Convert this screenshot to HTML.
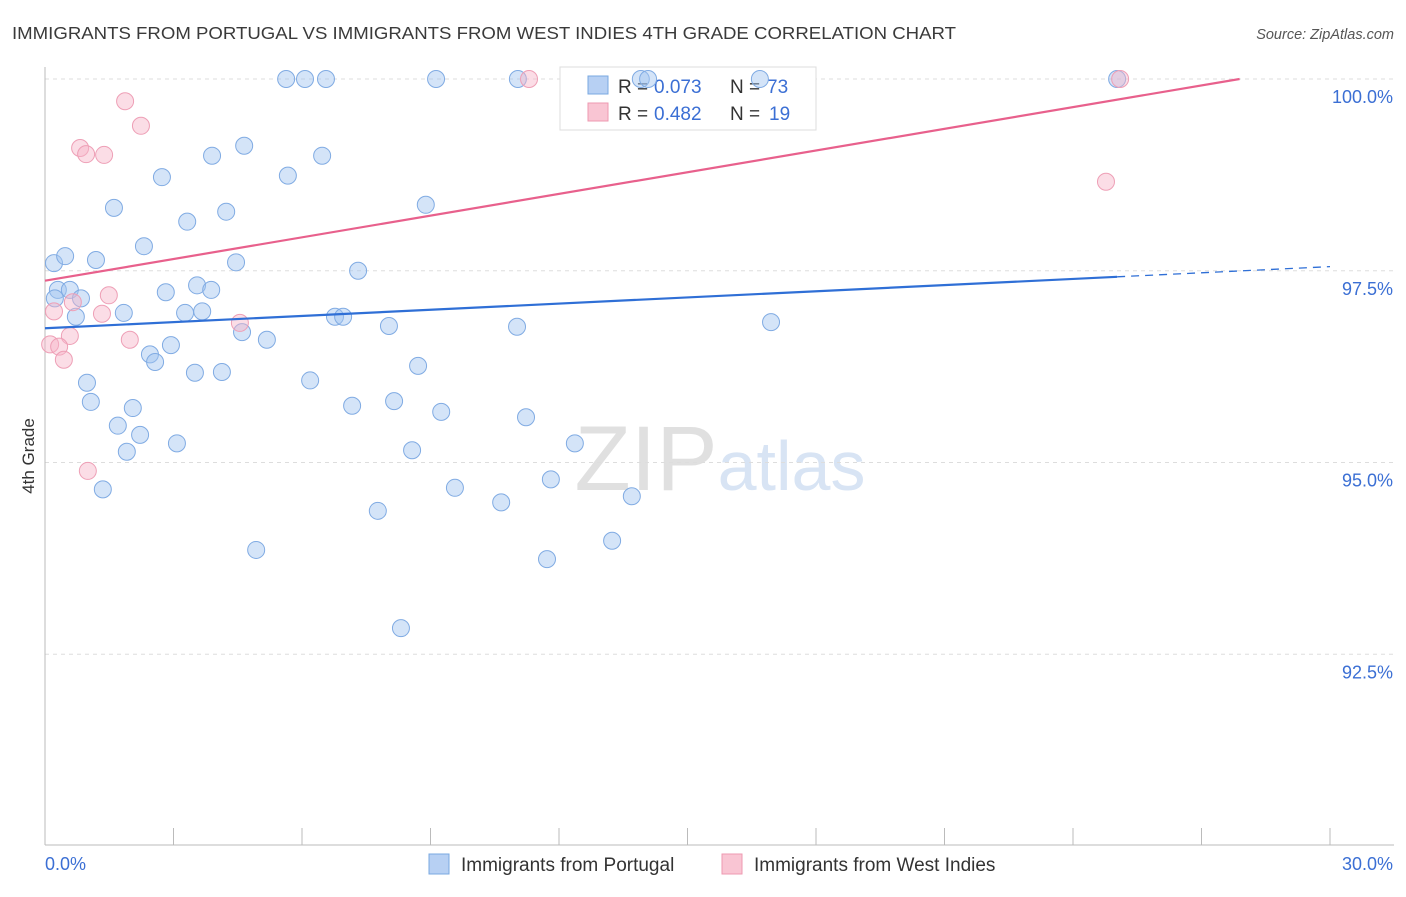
<!DOCTYPE html>
<html><head><meta charset="utf-8"><style>
body{margin:0;background:#fff;font-family:"Liberation Sans",sans-serif}
svg text{font-family:"Liberation Sans",sans-serif}
</style></head><body>
<svg id="chart" width="1406" height="892" xmlns="http://www.w3.org/2000/svg">
<text x="12" y="39" font-size="17.5" fill="#3a3a3a" textLength="944" lengthAdjust="spacingAndGlyphs">IMMIGRANTS FROM PORTUGAL VS IMMIGRANTS FROM WEST INDIES 4TH GRADE CORRELATION CHART</text>
<text x="1394" y="39" font-size="14.5" fill="#555" text-anchor="end" font-style="italic">Source: ZipAtlas.com</text>
<text x="720" y="490" font-size="92" fill="#e4e4e4" text-anchor="middle" font-family="Liberation Serif"><tspan fill="#e0e0e0">ZIP</tspan><tspan fill="#d8e4f4" font-family="Liberation Sans" font-size="70">atlas</tspan></text>
<text transform="translate(34,456) rotate(-90)" font-size="17" fill="#333" text-anchor="middle">4th Grade</text>
<g id="grid"></g><g id="axes"></g>
<g>
<rect x="560" y="67" width="256" height="63" fill="#fff" stroke="#ddd"/>
<rect x="588" y="76" width="20" height="18" fill="#b7d0f3" stroke="#7aa8e0"/>
<text x="618" y="93" font-size="19" fill="#333">R =</text><text x="654" y="93" font-size="19" fill="#3b6fd4">0.073</text>
<text x="730" y="93" font-size="19" fill="#333">N =</text><text x="767" y="93" font-size="19" fill="#3b6fd4">73</text>
<rect x="588" y="103" width="20" height="18" fill="#f9c5d3" stroke="#ee99b0"/>
<text x="618" y="120" font-size="19" fill="#333">R =</text><text x="654" y="120" font-size="19" fill="#3b6fd4">0.482</text>
<text x="730" y="120" font-size="19" fill="#333">N =</text><text x="769" y="120" font-size="19" fill="#3b6fd4">19</text>
</g>
<g id="marks"></g>
<g>
<rect x="429" y="854" width="20" height="20" fill="#b7d0f3" stroke="#7aa8e0"/>
<text x="461" y="871" font-size="19" fill="#333">Immigrants from Portugal</text>
<rect x="722" y="854" width="20" height="20" fill="#f9c5d3" stroke="#ee99b0"/>
<text x="754" y="871" font-size="19" fill="#333">Immigrants from West Indies</text>
</g>
</svg>
<script>
const blueX=[5.63,6.07,6.56,9.13,11.04,13.91,14.08,16.69,25.03,0.21,0.47,1.19,1.61,2.31,2.73,3.32,3.90,4.23,4.65,5.67,6.47,8.89,4.46,7.31,0.30,0.58,0.84,1.84,2.82,3.55,3.88,3.27,3.67,4.60,5.18,6.77,6.96,8.03,11.02,16.95,0.72,2.45,2.57,2.94,3.50,4.13,6.19,8.71,0.98,1.07,2.05,1.70,2.22,1.91,3.08,7.17,8.15,9.25,11.23,12.37,8.57,1.35,9.57,10.65,11.81,13.70,7.77,4.93,13.24,11.72,8.31,0.23];
const blueY=[100,100,100,100,100,100,100,100,100,97.60,97.69,97.64,98.32,97.82,98.72,98.14,99.00,98.27,99.13,98.74,99.00,98.36,97.61,97.50,97.25,97.25,97.14,96.95,97.22,97.31,97.25,96.95,96.97,96.70,96.60,96.90,96.90,96.78,96.77,96.83,96.90,96.41,96.31,96.53,96.17,96.18,96.07,96.26,96.04,95.79,95.71,95.48,95.36,95.14,95.25,95.74,95.80,95.66,95.59,95.25,95.16,94.65,94.67,94.48,94.78,94.56,94.37,93.86,93.98,93.74,92.84,97.14];
const pinkX=[11.30,25.10,1.87,2.24,0.82,0.96,1.38,24.77,1.49,0.65,0.21,1.33,4.55,1.98,0.58,0.12,0.33,0.44,1.00];
const pinkY=[100,100,99.71,99.39,99.10,99.02,99.01,98.66,97.18,97.09,96.97,96.94,96.82,96.60,96.65,96.54,96.51,96.34,94.89];
const blueTrend=[96.75,0.0268]; // intercept, slope
const pinkTrend=[97.37,0.0943];
const yTicks=[100,97.5,95,92.5];
const yTickLabels=["100.0%","97.5%","95.0%","92.5%"];
const NS="http://www.w3.org/2000/svg";
const sx=v=>45+v/30*1285;
const sy=v=>79+(100-v)*76.7;
function mk(t,a,p){const e=document.createElementNS(NS,t);for(const k in a)e.setAttribute(k,a[k]);p.appendChild(e);return e;}
const grid=document.getElementById('grid'),axes=document.getElementById('axes'),marks=document.getElementById('marks');
yTicks.forEach((t,i)=>{
 const l=mk('line',{x1:45,x2:1394,y1:sy(t),y2:sy(t),stroke:'#ddd','stroke-dasharray':'4,4'},grid);
 
 
 const tx=mk('text',{x:1393,y:sy(t)+24,'font-size':18,fill:'#3b6fd4','text-anchor':'end'},axes);
 tx.textContent=yTickLabels[i];
 
 
});
const ax=mk('line',{x1:45,x2:1394,y1:845,y2:845,stroke:'#bbb'},axes);


const ay=mk('line',{x1:45,x2:45,y1:67,y2:845,stroke:'#bbb'},axes);


for(let i=0;i<=10;i++){
 const t=mk('line',{x1:sx(i*3),x2:sx(i*3),y1:828,y2:845,stroke:'#bbb'},axes);
 
 
}
[[0,"0.0%",'start',45],[30,"30.0%",'end',1393]].forEach(d=>{
 const t=mk('text',{x:d[3],y:870,'font-size':18,fill:'#3b6fd4','text-anchor':d[2]},axes);
 t.textContent=d[1];
 
 
});
blueX.forEach((x,i)=>{
 const c=mk('circle',{cx:sx(x),cy:sy(blueY[i]),r:8.5,fill:'rgba(160,195,240,0.45)',stroke:'#80abe3','stroke-width':1},marks);
 
 
});
pinkX.forEach((x,i)=>{
 const c=mk('circle',{cx:sx(x),cy:sy(pinkY[i]),r:8.5,fill:'rgba(247,180,200,0.45)',stroke:'#ee9fb6','stroke-width':1},marks);
 
 
});
const bEnd=25.03;
const b1=mk('line',{x1:sx(0),y1:sy(blueTrend[0]),x2:sx(bEnd),y2:sy(blueTrend[0]+blueTrend[1]*bEnd),stroke:'#2f6fd6','stroke-width':2.2},marks);


const b2=mk('line',{x1:sx(bEnd),y1:sy(blueTrend[0]+blueTrend[1]*bEnd),x2:sx(30),y2:sy(blueTrend[0]+blueTrend[1]*30),stroke:'#2f6fd6','stroke-width':1.3,'stroke-dasharray':'8,6'},marks);


const pEnd=(100-pinkTrend[0])/pinkTrend[1];
const p1=mk('line',{x1:sx(0),y1:sy(pinkTrend[0]),x2:sx(pEnd),y2:sy(100),stroke:'#e8608c','stroke-width':2.2},marks);


</script>
</body></html>
